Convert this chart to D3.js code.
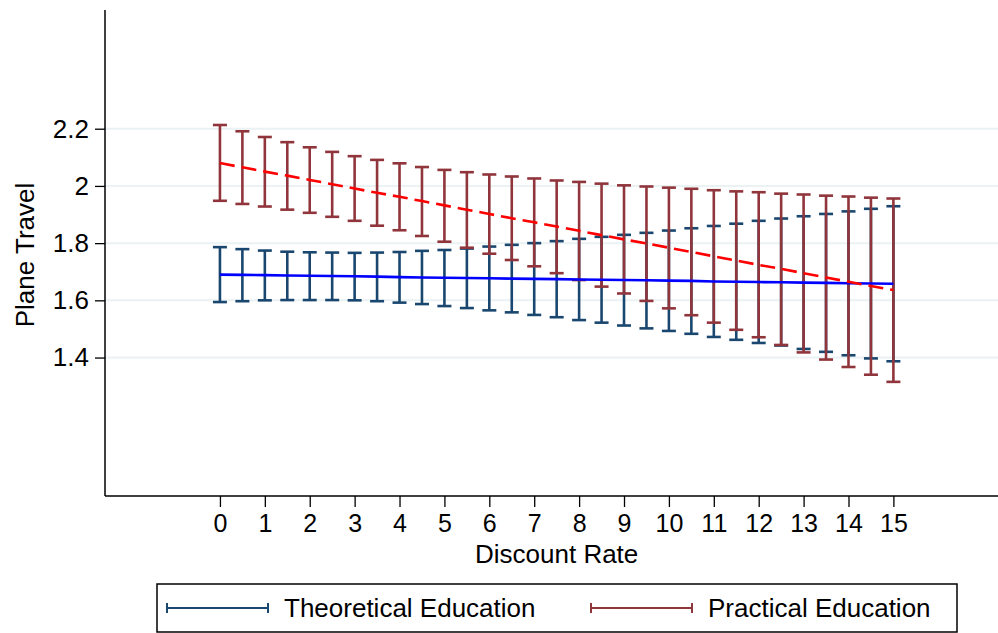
<!DOCTYPE html>
<html>
<head>
<meta charset="utf-8">
<script src="https://cdn.jsdelivr.net/npm/d3@7"></script>
<style>
  body { margin: 0; background: #fff; }
  text { font-family: "Liberation Sans", Arial, Helvetica, sans-serif; fill: #000; }
</style>
</head>
<body>
<div id="chart-area"></div>
<script>
// discount rate values (every half unit)
var rates = [0, 0.5, 1, 1.5, 2, 2.5, 3, 3.5, 4, 4.5, 5, 5.5, 6, 6.5, 7, 7.5,
  8, 8.5, 9, 9.5, 10, 10.5, 11, 11.5, 12, 12.5, 13, 13.5, 14, 14.5, 15];

// Theoretical Education - predicted margin and 95% CI
var theoMean = [1.690, 1.689, 1.688, 1.687, 1.686, 1.685, 1.684, 1.683, 1.681, 1.680,
  1.679, 1.678, 1.677, 1.676, 1.675, 1.674, 1.673, 1.672, 1.671, 1.670,
  1.669, 1.668, 1.666, 1.665, 1.664, 1.663, 1.662, 1.661, 1.660, 1.659, 1.658];
var theoUpper = [1.786, 1.779, 1.774, 1.770, 1.768, 1.767, 1.766, 1.767, 1.769, 1.773,
  1.776, 1.781, 1.788, 1.794, 1.800, 1.807, 1.815, 1.822, 1.829, 1.836,
  1.844, 1.852, 1.860, 1.868, 1.878, 1.886, 1.894, 1.902, 1.911, 1.920, 1.929];
var theoLower = [1.594, 1.597, 1.600, 1.601, 1.601, 1.601, 1.600, 1.597, 1.592, 1.587,
  1.580, 1.573, 1.565, 1.558, 1.549, 1.541, 1.531, 1.522, 1.512, 1.502,
  1.493, 1.483, 1.472, 1.462, 1.451, 1.442, 1.430, 1.420, 1.408, 1.397, 1.387];

// Practical Education - predicted margin and 95% CI
var pracMean = [2.080, 2.065, 2.050, 2.036, 2.021, 2.006, 1.991, 1.976, 1.962, 1.947,
  1.932, 1.917, 1.902, 1.887, 1.873, 1.858, 1.843, 1.828, 1.813, 1.799,
  1.784, 1.769, 1.754, 1.739, 1.724, 1.710, 1.695, 1.680, 1.665, 1.650, 1.636];
var pracUpper = [2.213, 2.191, 2.171, 2.153, 2.135, 2.119, 2.104, 2.091, 2.079, 2.066,
  2.056, 2.048, 2.040, 2.033, 2.026, 2.019, 2.014, 2.008, 2.002, 1.998,
  1.994, 1.990, 1.985, 1.981, 1.978, 1.973, 1.970, 1.966, 1.963, 1.959, 1.956];
var pracLower = [1.948, 1.937, 1.928, 1.917, 1.906, 1.892, 1.878, 1.861, 1.845, 1.825,
  1.805, 1.784, 1.763, 1.741, 1.719, 1.695, 1.671, 1.648, 1.624, 1.598,
  1.572, 1.548, 1.522, 1.497, 1.471, 1.444, 1.418, 1.393, 1.367, 1.340, 1.315];

var xTicks = [0, 1, 2, 3, 4, 5, 6, 7, 8, 9, 10, 11, 12, 13, 14, 15];
var yTicks = [1.4, 1.6, 1.8, 2, 2.2];
var seriesNames = ["Theoretical Education", "Practical Education"];

var width = 998, height = 633;
var plot = { left: 105, right: 998, top: 10, bottom: 496 };

var svg = d3.select("#chart-area").append("svg")
  .attr("width", width)
  .attr("height", height);

var x = d3.scaleLinear()
  .domain([-2.56, 17.33])
  .range([plot.left, plot.right]);

var y = d3.scaleLinear()
  .domain([0.916, 2.615])
  .range([plot.bottom, plot.top]);

// gridlines
svg.append("g").selectAll("line")
  .data(yTicks)
  .enter().append("line")
    .attr("x1", plot.left).attr("x2", plot.right)
    .attr("y1", function(d) { return y(d); })
    .attr("y2", function(d) { return y(d); })
    .attr("stroke", "#eaf2f3")
    .attr("stroke-width", 2);

// Y axis
var yAxisCall = d3.axisLeft(y)
  .tickValues(yTicks)
  .tickSize(10)
  .tickPadding(6)
  .tickFormat(function(d) { return d3.format("")(d); });
var yAxisGroup = svg.append("g")
  .attr("transform", "translate(" + plot.left + ",0)")
  .call(yAxisCall);
yAxisGroup.select(".domain").remove();
yAxisGroup.selectAll(".tick line").attr("stroke-width", 1.3);
yAxisGroup.selectAll("text")
  .attr("font-size", "26px")
  .style("font-family", "'Liberation Sans', Arial, sans-serif");

// X axis
var xAxisCall = d3.axisBottom(x)
  .tickValues(xTicks)
  .tickSize(11)
  .tickPadding(7);
var xAxisGroup = svg.append("g")
  .attr("transform", "translate(0," + plot.bottom + ")")
  .call(xAxisCall);
xAxisGroup.select(".domain").remove();
xAxisGroup.selectAll(".tick line").attr("stroke-width", 1.3);
xAxisGroup.selectAll("text")
  .attr("font-size", "25px")
  .style("font-family", "'Liberation Sans', Arial, sans-serif");

// axis lines
svg.append("line")
  .attr("x1", plot.left).attr("x2", plot.left)
  .attr("y1", plot.top).attr("y2", plot.bottom)
  .attr("stroke", "#000").attr("stroke-width", 1.5);
svg.append("line")
  .attr("x1", plot.left).attr("x2", plot.right)
  .attr("y1", plot.bottom).attr("y2", plot.bottom)
  .attr("stroke", "#000").attr("stroke-width", 1.5);

// axis titles
svg.append("text")
  .attr("x", x(7.5))
  .attr("y", 563)
  .attr("font-size", "26px")
  .attr("text-anchor", "middle")
  .text("Discount Rate");

svg.append("text")
  .attr("transform", "translate(34," + 255 + ") rotate(-90)")
  .attr("font-size", "26px")
  .attr("text-anchor", "middle")
  .text("Plane Travel");

// error bars
function drawCI(lower, upper, color) {
  var rows = rates.map(function(r, i) { return { r: r, lo: lower[i], hi: upper[i] }; });
  var g = svg.append("g").attr("stroke", color).attr("stroke-width", 2.6);
  g.selectAll(".bar").data(rows).enter().append("line")
    .attr("x1", function(d) { return x(d.r); })
    .attr("x2", function(d) { return x(d.r); })
    .attr("y1", function(d) { return y(d.lo); })
    .attr("y2", function(d) { return y(d.hi); });
  g.selectAll(".capHi").data(rows).enter().append("line")
    .attr("x1", function(d) { return x(d.r) - 7; })
    .attr("x2", function(d) { return x(d.r) + 7; })
    .attr("y1", function(d) { return y(d.hi); })
    .attr("y2", function(d) { return y(d.hi); });
  g.selectAll(".capLo").data(rows).enter().append("line")
    .attr("x1", function(d) { return x(d.r) - 7; })
    .attr("x2", function(d) { return x(d.r) + 7; })
    .attr("y1", function(d) { return y(d.lo); })
    .attr("y2", function(d) { return y(d.lo); });
}

drawCI(theoLower, theoUpper, "#1a476f");
drawCI(pracLower, pracUpper, "#90353b");

// predicted lines
var line = d3.line()
  .x(function(d) { return x(d[0]); })
  .y(function(d) { return y(d[1]); });

svg.append("path")
  .datum(rates.map(function(r, i) { return [r, theoMean[i]]; }))
  .attr("d", line)
  .attr("fill", "none")
  .attr("stroke", "#0000ff")
  .attr("stroke-width", 2.6);

svg.append("path")
  .datum(rates.map(function(r, i) { return [r, pracMean[i]]; }))
  .attr("d", line)
  .attr("fill", "none")
  .attr("stroke", "#ff0000")
  .attr("stroke-width", 2.6)
  .attr("stroke-dasharray", "15,7");

// legend
var legend = svg.append("g");
legend.append("rect")
  .attr("x", 157).attr("y", 584)
  .attr("width", 800).attr("height", 48)
  .attr("fill", "#fff")
  .attr("stroke", "#000")
  .attr("stroke-width", 1.5);

var legendItems = [
  { name: seriesNames[0], color: "#1a476f", x0: 167 },
  { name: seriesNames[1], color: "#90353b", x0: 591 }
];
legendItems.forEach(function(d) {
  var g = legend.append("g").attr("stroke", d.color).attr("stroke-width", 2);
  g.append("line").attr("x1", d.x0).attr("x2", d.x0 + 101).attr("y1", 608).attr("y2", 608);
  g.append("line").attr("x1", d.x0).attr("x2", d.x0).attr("y1", 603).attr("y2", 613);
  g.append("line").attr("x1", d.x0 + 101).attr("x2", d.x0 + 101).attr("y1", 603).attr("y2", 613);
  legend.append("text")
    .attr("x", d.x0 + 117)
    .attr("y", 617)
    .attr("font-size", "26px")
    .text(d.name);
});
</script>
</body>
</html>
